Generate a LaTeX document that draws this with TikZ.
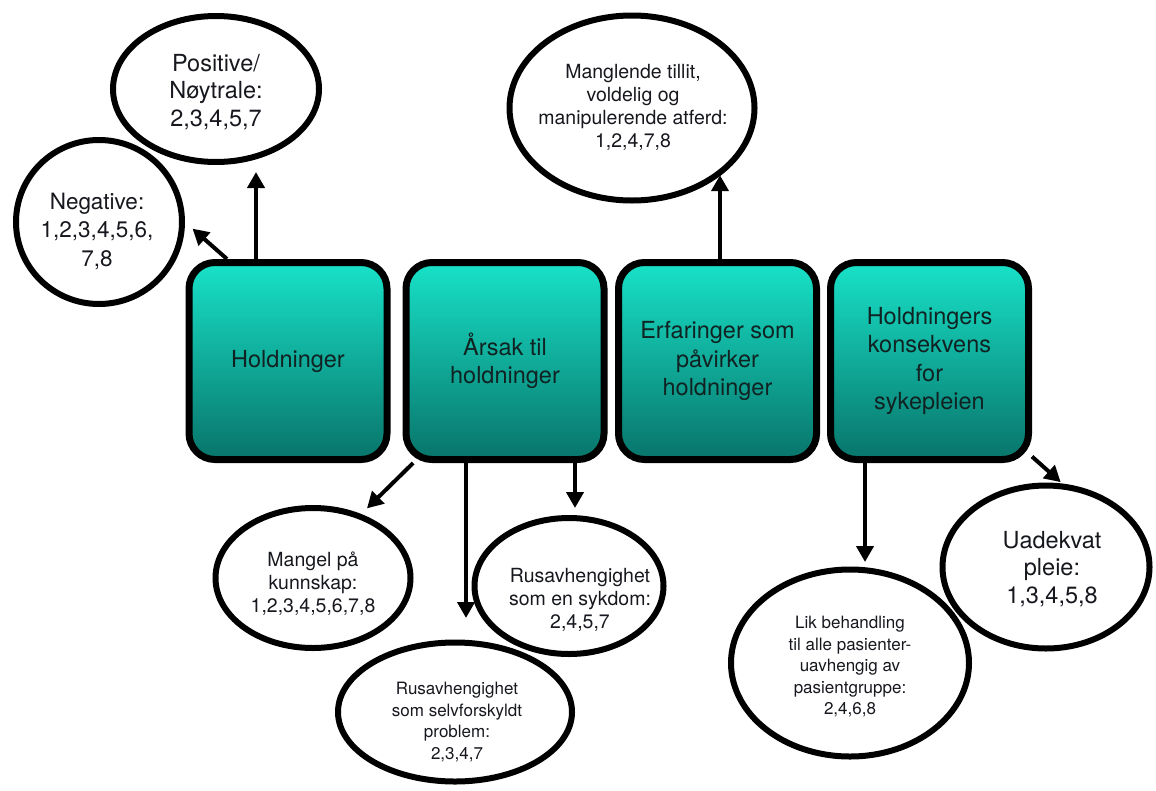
\documentclass[tikz,border=0pt]{standalone}
\usepackage{fontspec}
\setmainfont{TeX Gyre Heros}
\usetikzlibrary{arrows.meta,shapes.geometric}
\definecolor{tealtop}{RGB}{24,226,200}
\definecolor{tealbot}{RGB}{8,116,106}
\definecolor{boxtext}{RGB}{16,34,34}
\definecolor{lbltext}{RGB}{22,24,30}
\pgfdeclarelayer{bg}
\pgfsetlayers{bg,main}
\begin{document}
\begin{tikzpicture}[x=1pt,y=-1pt,
  box/.style={draw=black, line width=7pt, rounded corners=26pt,
    minimum width=198pt, minimum height=197pt, inner sep=0pt,
    top color=tealtop, bottom color=tealbot, align=center, text=boxtext,
    font=\fontsize{23.5}{28.5}\selectfont},
  ell/.style={draw=black, line width=6pt, ellipse, inner sep=0pt},
  lbl/.style={align=center, text=lbltext, inner sep=0pt},
  big/.style={font=\fontsize{23.5}{27.5}\selectfont},
  mid/.style={font=\fontsize{19.5}{23}\selectfont},
  small/.style={font=\fontsize{17}{21.5}\selectfont},
  arr/.style={line width=4pt, -{Triangle[length=16pt,width=17pt]}}]
\useasboundingbox (0,0) rectangle (1156,790);

% boxes
\node[box] (b1) at (288,361) {Holdninger};
\node[box] (b2) at (505,361) {Årsak til\\holdninger};
\node[box] (b3) at (717.5,361) {Erfaringer som\\påvirker\\holdninger};
\node[box] (b4) at (929.5,361) {Holdningers\\konsekvens\\for\\sykepleien};

% ellipses
\node[ell, minimum width=206pt, minimum height=146pt] (pos) at (216,89) {};
\node[ell, minimum width=166pt, minimum height=164pt] (neg) at (99,222) {};
\node[ell, minimum width=245pt, minimum height=185pt] (mang) at (632,108) {};
\node[ell, minimum width=195pt, minimum height=140pt] (mangel) at (313,578) {};
\node[ell, minimum width=189pt, minimum height=136pt] (syk) at (569,586) {};
\node[ell, minimum width=234pt, minimum height=139pt] (selv) at (455,712) {};
\node[ell, minimum width=238pt, minimum height=187pt] (lik) at (850,663) {};
\node[ell, minimum width=207pt, minimum height=163pt] (uad) at (1046,567) {};

% labels
\node[lbl, big] (tpos) at (216,92) {Positive/\\Nøytrale:\\2,3,4,5,7};
\node[lbl, font=\fontsize{22.5}{28.5}\selectfont] (tneg) at (97,231) {Negative:\\1,2,3,4,5,6,\\7,8};
\node[lbl, mid] (tmang) at (633,107) {Manglende tillit,\\voldelig og\\manipulerende atferd:\\1,2,4,7,8};
\node[lbl, mid] (tmangel) at (313,584) {Mangel på\\kunnskap:\\1,2,3,4,5,6,7,8};
\node[lbl, mid] (tsyk) at (580,600) {Rusavhengighet\\som en sykdom:\\2,4,5,7};
\node[lbl, small] (tselv) at (457,722) {Rusavhengighet\\som selvforskyldt\\problem:\\2,3,4,7};
\node[lbl, small] (tlik) at (850,667) {Lik behandling\\til alle pasienter-\\uavhengig av\\pasientgruppe:\\2,4,6,8};
\node[lbl, big] (tuad) at (1052,569) {Uadekvat\\pleie:\\1,3,4,5,8};

% connectors
\begin{pgfonlayer}{bg}
\draw[arr, shorten >=7pt] ([xshift=-32pt]b1.north) -- ([xshift=-32pt]b1.north |- pos.south);
\draw[arr, shorten >=10pt] ([xshift=-61pt]b1.north) -- (neg.east);
\draw[arr] ([xshift=2.5pt]b3.north) -- ([xshift=2.5pt]b3.north |- mang.-37.7);
\draw[arr, shorten >=8pt] (b2.228.6) -- (mangel.53);
\draw[arr, shorten >=21.5pt] ([xshift=-39pt]b2.south) -- ([xshift=-39pt]b2.south |- selv.north);
\draw[arr, shorten >=7pt] ([xshift=70pt]b2.south) -- ([xshift=70pt]b2.south |- syk.north);
\draw[arr, shorten >=4.5pt] ([xshift=-64.5pt]b4.south) -- ([xshift=-64.5pt]b4.south |- lik.north);
\draw[arr, shorten >=2pt] (b4.-43) -- (uad.79);
\end{pgfonlayer}
\end{tikzpicture}
\end{document}
